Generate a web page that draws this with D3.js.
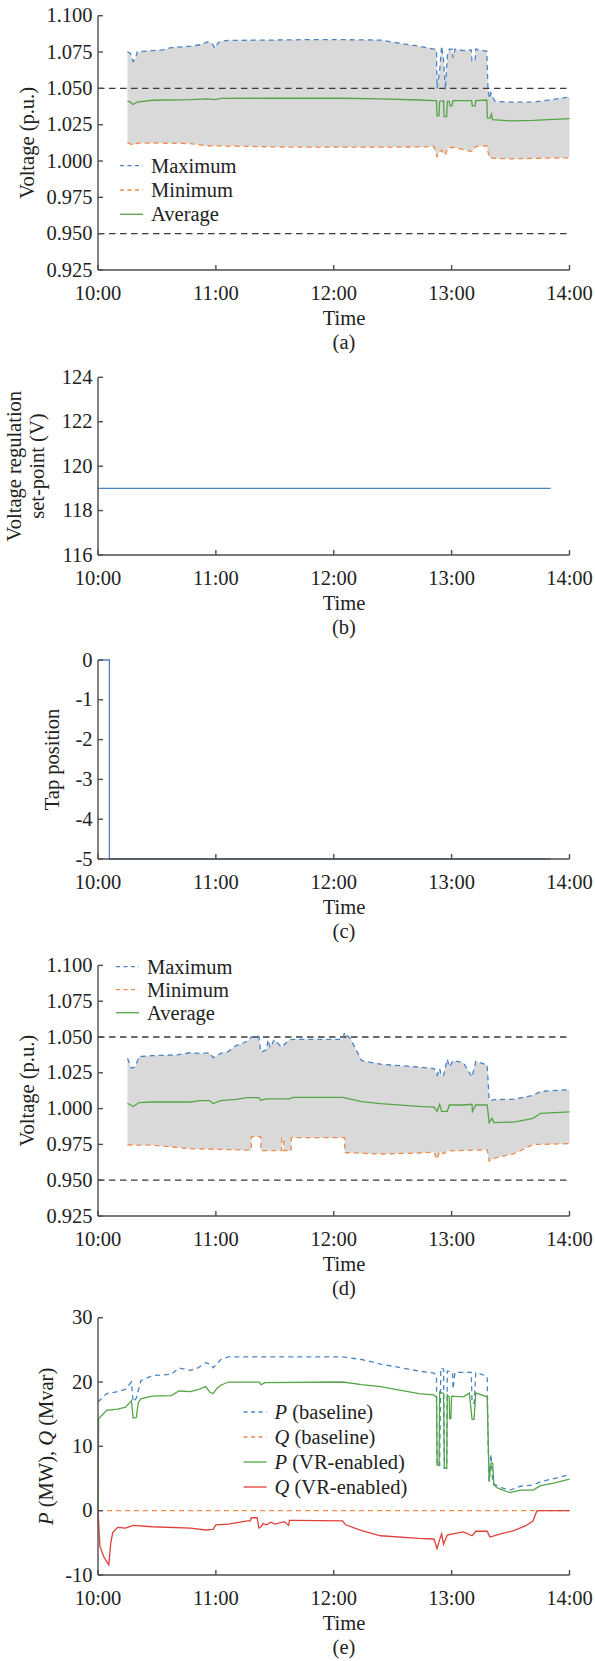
<!DOCTYPE html>
<html><head><meta charset="utf-8">
<script src="https://cdn.jsdelivr.net/npm/d3@7"></script>
<style>
body{margin:0;background:#fff;}
svg text{font-family:"Liberation Serif","Times New Roman",serif;fill:#222;}
</style></head><body>
<svg id="c" width="595" height="1661"></svg>
<script>
// ---------- shared axis data ----------
const timeTicks = [0, 60, 120, 180, 240];
const timeLabels = ["10:00", "11:00", "12:00", "13:00", "14:00"];
const voltTicks = [0.925, 0.95, 0.975, 1.0, 1.025, 1.05, 1.075, 1.1];
const setTicks = [116, 118, 120, 122, 124];
const tapTicks = [-5, -4, -3, -2, -1, 0];
const pqTicks = [-10, 0, 10, 20, 30];
const voltLimits = [0.95, 1.05];

// ---------- panel (a): baseline voltages (minutes after 10:00) ----------
const aMaxT = [15,16.5,17.9,19,19.9,23,27.6,33,37.3,42,47,52,55.7,58,59.6,61,62.5,66.4,85.8,105.1,124.5,143.9,153.6,163.3,171,172.3,172.6,173.9,174.9,175.9,176.8,177.8,178.8,180.2,180.7,181.7,186,190,190.4,192,192.3,196,197.9,198.5,199.3,200,202,209.8,221.4,240];
const aMaxV = [1.0752,1.074,1.0685,1.070,1.075,1.0755,1.076,1.0765,1.078,1.0785,1.079,1.080,1.082,1.081,1.0775,1.081,1.0825,1.083,1.0832,1.0835,1.0835,1.0832,1.081,1.079,1.077,1.0765,1.050,1.062,1.079,1.070,1.049,1.0725,1.077,1.077,1.071,1.077,1.076,1.0765,1.068,1.070,1.077,1.076,1.0755,1.050,1.043,1.047,1.041,1.0405,1.0405,1.044];
const aMinT = [15,17.9,19.9,27.6,47,55.7,66.4,85.8,105.1,143.9,163.3,171,172.6,173.9,174.9,176.8,177.8,180.7,190.4,192.3,197.9,199.1,202,209.8,221.4,240];
const aMinV = [1.0125,1.011,1.0122,1.0124,1.012,1.0105,1.0103,1.0098,1.0095,1.0095,1.0097,1.010,1.003,1.0065,1.0075,1.004,1.0085,1.0095,1.0065,1.010,1.0105,1.0025,1.0018,1.0015,1.0018,1.0022];
const aAvgT = [15,16.5,17.9,19.9,27.6,47,55.7,59.6,62.5,85.8,124.5,143.9,163.3,171,172.3,172.6,173.6,173.9,175.9,176.2,177.5,177.8,178.8,179.2,180.2,180.7,190.2,190.5,192,192.3,197.9,198.2,199.5,200.3,200.8,209.8,221.4,240];
const aAvgV = [1.0412,1.0405,1.0389,1.0405,1.0418,1.0422,1.0428,1.0422,1.0431,1.0432,1.0432,1.0428,1.042,1.0415,1.0415,1.031,1.031,1.041,1.0415,1.0305,1.0305,1.041,1.041,1.038,1.038,1.0415,1.0415,1.038,1.038,1.0415,1.042,1.0295,1.0295,1.0323,1.0285,1.0276,1.028,1.0292];

// ---------- panel (b): set-point ----------
const bT = [0, 230.4];
const bV = [119, 119];

// ---------- panel (c): tap position ----------
const cT = [0, 5.8, 5.8, 230.4];
const cV = [0, 0, -5, -5];

// ---------- panel (d): VR-enabled voltages ----------
const dMaxT = [15,17,18.9,20.9,27.6,40,47,52,56.7,58.6,62.5,66.4,70.3,76.1,78,81.9,82.8,85.8,86.5,87.7,89.6,93.5,95,97.4,99.3,124.5,125.5,128.4,131,134.2,143.9,163.3,171,172.6,173.9,174.9,175.9,177.8,178.8,180.7,186,190.4,192.3,198.1,199.1,202,211.7,221.4,225.3,240];
const dMaxV = [1.0351,1.0284,1.029,1.0363,1.037,1.0375,1.039,1.0385,1.039,1.0356,1.0385,1.040,1.044,1.047,1.050,1.0505,1.0395,1.041,1.048,1.0425,1.048,1.043,1.045,1.048,1.0484,1.0484,1.053,1.049,1.042,1.0335,1.031,1.029,1.028,1.0233,1.028,1.0225,1.0233,1.0345,1.029,1.0335,1.032,1.022,1.033,1.0305,1.0058,1.0063,1.0065,1.0093,1.012,1.0132];
const dMinT = [15,27.6,47,62.5,76.1,78,78.1,82.8,82.9,93.5,93.6,94.5,94.6,98.3,98.4,125.5,125.6,143.9,163.3,171,172.6,173.9,175.9,177.8,198.1,199.1,202,211.7,221.4,240];
const dMinV = [0.9746,0.9745,0.972,0.9715,0.971,0.971,0.9804,0.9804,0.9707,0.9707,0.9795,0.9795,0.9707,0.9705,0.9797,0.9797,0.9693,0.9683,0.969,0.9695,0.9645,0.970,0.9685,0.9705,0.9712,0.9633,0.9655,0.9685,0.9749,0.9755];
const dAvgT = [15,17.9,20.9,27.6,47,52,56.7,58.6,62.5,70,76.1,81.9,82.8,85.8,97.4,99.3,124.5,134.2,143.9,163.3,171,172.6,173.9,174.9,177.8,178.8,186,190.4,190.6,192.3,198.1,199.1,200.5,201.5,211.7,221.4,225.3,240];
const dAvgV = [1.0037,1.0014,1.0042,1.0046,1.0046,1.0055,1.0056,1.0035,1.0056,1.0065,1.0077,1.0077,1.0058,1.0068,1.0068,1.0079,1.0079,1.0049,1.0035,1.0015,1.001,0.998,1.003,0.998,0.998,1.0025,1.0025,1.003,0.998,1.0025,1.0025,0.9902,0.9932,0.9902,0.9906,0.9932,0.9967,0.9977];

// ---------- panel (e): P and Q ----------
const ePbT = [0,4.4,10,14.1,17,17.9,19.5,21.8,27.6,37.3,41.2,47,50.9,54.8,57,58.6,62.5,66.4,85,124.5,134.2,143.9,163.3,171,172.3,172.6,173.9,174.5,175.9,176.3,177.5,177.8,180.5,180.7,181.7,190,190.4,191.5,192.3,198.1,198.6,199.1,200,201,205,209.8,215,221.4,225.3,232,240];
const ePbV = [16.9,18.2,18.5,18.9,20,16.9,17.5,20.2,21,21.2,22.2,21.8,22.2,23,22.8,22.2,23.5,23.9,23.9,23.9,23.5,22.8,21.7,21.4,21,7,7,22.2,22,6.6,6.6,21.7,21.5,18.9,21.5,21.5,16.7,16.7,21.5,20.9,10,4.5,8.8,4.2,3.6,3.2,3.8,4,4.5,5,5.6];
const ePvT = [0,0.3,4.4,10,14.1,17,17.9,19.5,20.5,21.8,27.6,37.3,41.2,47,50.9,54.8,57,58.6,60.5,62.5,66.4,82,83,85,124.5,134.2,143.9,163.3,171,172.3,172.6,173.6,173.9,175.9,176.3,177.5,177.8,178.8,179,179.6,180,186,189,190.4,191.4,192.3,198.1,199.1,200,200.9,201.5,203,205,209.8,215,221.4,225.3,232,240];
const ePvV = [0,14.3,15.6,15.8,16.1,17.1,14.4,14.5,16.8,17.4,17.8,17.9,18.6,18.5,18.8,19.3,18.4,18.2,19,19.5,20,20,19.6,19.9,20,19.6,19.3,18.2,18,17.6,7.1,7.1,18.5,18.2,6.6,6.6,18,17.6,14.3,14.3,17.8,17.7,18.3,14.2,14.2,18.3,17.7,4.5,7.4,7.4,4,3.6,3.3,2.8,3.2,3.2,3.9,4.3,4.9];
const eQbT = [0, 240];
const eQbV = [0, 0];
const eQvT = [0,1,3,5.5,6.5,7.5,10,14,17.9,27.6,47,54.8,58.6,60,66.4,76,77.5,78,81,81.9,83,84,85.8,88,90,95,97,97.5,100,124.5,126,134.2,143.9,163.3,171,172.6,173.9,174.9,175.9,177.8,180.7,186,190.4,192.3,198.1,199.5,205,211.7,218,221.4,223.3,224,240];
const eQvV = [0,-5.6,-7.2,-8.4,-5,-3.4,-2.6,-2.7,-2.3,-2.5,-2.7,-3,-2.9,-2.2,-2.1,-1.6,-1.6,-1.1,-1.1,-2.7,-2.5,-2,-2.2,-1.8,-2.1,-1.7,-2.3,-1.5,-1.5,-1.6,-2.2,-3.1,-3.9,-4.3,-4.4,-5.9,-4.5,-3.6,-5.2,-3.8,-3.6,-3.3,-3.9,-3.2,-3.2,-4.1,-3.6,-3.1,-2.3,-1.6,-0.1,0,0];

// ---------- styles ----------
const C = {blue:"#4a84c4", orange:"#f08a4b", green:"#55a547", red:"#e0403a", fill:"#d9d9da", axis:"#4d4d4d", limit:"#3a3a3a"};
const FS = 20.5;
const svg = d3.select("#c");
const x = d3.scaleLinear().domain([0, 240]).range([98, 569.5]);

function zip(t, v){ return t.map((d,i)=>({t:d, v:v[i]})); }

function panel(o){
  const y = d3.scaleLinear().domain(o.ydom).range([o.bottom, o.top]);
  const g = svg.append("g");
  const line = d3.line().x(d=>x(d.t)).y(d=>y(d.v));
  if (o.fill) {
    const mx = zip(o.fill[0], o.fill[1]);
    const mn = zip(o.fill[2], o.fill[3]).reverse();
    g.append("path").attr("d", line(mx.concat(mn)) + "Z")
      .attr("fill", C.fill).attr("stroke", "none");
  }
  (o.limits||[]).forEach(v=>{
    g.append("path").attr("d", line([{t:0,v},{t:240,v}]))
      .attr("stroke", C.limit).attr("stroke-width", 1.3).attr("stroke-dasharray","6.5,4.5").attr("fill","none");
  });
  o.series.forEach(s=>{
    g.append("path").attr("d", line(zip(s.t, s.v))).attr("fill","none")
      .attr("stroke", s.color).attr("stroke-width", s.w||1.3)
      .attr("stroke-dasharray", s.dash||null).attr("stroke-linejoin","miter");
  });
  // axes (drawn on top of the data)
  const xa = g.append("g").attr("transform", `translate(0,${o.bottom})`)
    .call(d3.axisBottom(x).tickValues(timeTicks).tickFormat((d,i)=>timeLabels[i])
      .tickSizeInner(-5).tickSizeOuter(0).tickPadding(15).offset(0));
  const ya = g.append("g").attr("transform", `translate(${x(0)},0)`)
    .call(d3.axisLeft(y).tickValues(o.yticks).tickFormat(o.yfmt)
      .tickSizeInner(-5).tickSizeOuter(0).tickPadding(5.5).offset(0));
  [xa, ya].forEach(a=>{
    a.attr("font-size", FS).attr("font-family", null);
    a.selectAll("path,line").attr("stroke", C.axis).attr("stroke-width", 1.4);
    a.selectAll("text").attr("fill", "#222");
  });
  // titles
  g.append("text").attr("x", 344).attr("y", o.bottom + 55).attr("text-anchor","middle")
    .attr("font-size", FS).text("Time");
  g.append("text").attr("x", 344).attr("y", o.bottom + 79).attr("text-anchor","middle")
    .attr("font-size", FS).text(o.tag);
  o.ylab.forEach(l=>{
    const t = g.append("text").attr("transform", `translate(${l.x},${(o.top+o.bottom)/2}) rotate(-90)`)
      .attr("text-anchor","middle").attr("font-size", FS);
    l.parts.forEach(p=>t.append("tspan").attr("font-style", p.i ? "italic" : null).text(p.s));
  });
  if (o.legend) {
    o.legend.items.forEach((it,i)=>{
      const yy = o.legend.y + i*o.legend.dy;
      g.append("line").attr("x1", o.legend.x).attr("x2", o.legend.x + 23).attr("y1", yy).attr("y2", yy)
        .attr("stroke", it.color).attr("stroke-width", 1.3).attr("stroke-dasharray", it.dash||null);
      const t = g.append("text").attr("x", o.legend.x + 31).attr("y", yy + 7).attr("font-size", FS);
      it.parts.forEach(p=>t.append("tspan").attr("font-style", p.i ? "italic" : null).text(p.s));
    });
  }
}

const voltFmt = d3.format(".3f");
const vLegend = [
  {color:C.blue, dash:"4,3.5", parts:[{s:"Maximum"}]},
  {color:C.orange, dash:"4,3.5", parts:[{s:"Minimum"}]},
  {color:C.green, parts:[{s:"Average"}]}
];

panel({top:15.7, bottom:270, ydom:[0.925,1.1], yticks:voltTicks, yfmt:voltFmt, tag:"(a)",
  fill:[aMaxT,aMaxV,aMinT,aMinV], limits:voltLimits,
  series:[{t:aMaxT,v:aMaxV,color:C.blue,dash:"5,4"},{t:aMinT,v:aMinV,color:C.orange,dash:"5,4"},{t:aAvgT,v:aAvgV,color:C.green}],
  ylab:[{x:34, parts:[{s:"Voltage (p.u.)"}]}],
  legend:{x:120, y:165.7, dy:24.3, items:vLegend}});

panel({top:377.3, bottom:555, ydom:[116,124], yticks:setTicks, yfmt:d3.format("d"), tag:"(b)",
  series:[{t:bT,v:bV,color:C.blue}],
  ylab:[{x:21, parts:[{s:"Voltage regulation"}]},{x:44, parts:[{s:"set-point (V)"}]}]});

panel({top:660, bottom:859, ydom:[-5,0], yticks:tapTicks, yfmt:d=>String(d), tag:"(c)",
  series:[{t:cT,v:cV,color:C.blue}],
  ylab:[{x:59, parts:[{s:"Tap position"}]}]});

panel({top:965.4, bottom:1216, ydom:[0.925,1.1], yticks:voltTicks, yfmt:voltFmt, tag:"(d)",
  fill:[dMaxT,dMaxV,dMinT,dMinV], limits:voltLimits,
  series:[{t:dMaxT,v:dMaxV,color:C.blue,dash:"5,4"},{t:dMinT,v:dMinV,color:C.orange,dash:"5,4"},{t:dAvgT,v:dAvgV,color:C.green}],
  ylab:[{x:34, parts:[{s:"Voltage (p.u.)"}]}],
  legend:{x:116, y:966.7, dy:23, items:vLegend}});

panel({top:1317.7, bottom:1575, ydom:[-10,30], yticks:pqTicks, yfmt:d=>String(d), tag:"(e)",
  series:[{t:eQbT,v:eQbV,color:C.orange,dash:"5,4"},{t:ePbT,v:ePbV,color:C.blue,dash:"5,4"},{t:ePvT,v:ePvV,color:C.green},{t:eQvT,v:eQvV,color:C.red}],
  ylab:[{x:53, parts:[{s:"P",i:true},{s:" (MW), "},{s:"Q",i:true},{s:" (Mvar)"}]}],
  legend:{x:243.6, y:1412, dy:25, items:[
    {color:C.blue, dash:"4,3.5", parts:[{s:"P",i:true},{s:" (baseline)"}]},
    {color:C.orange, dash:"4,3.5", parts:[{s:"Q",i:true},{s:" (baseline)"}]},
    {color:C.green, parts:[{s:"P",i:true},{s:" (VR-enabled)"}]},
    {color:C.red, parts:[{s:"Q",i:true},{s:" (VR-enabled)"}]}
  ]}});
</script>
</body></html>
